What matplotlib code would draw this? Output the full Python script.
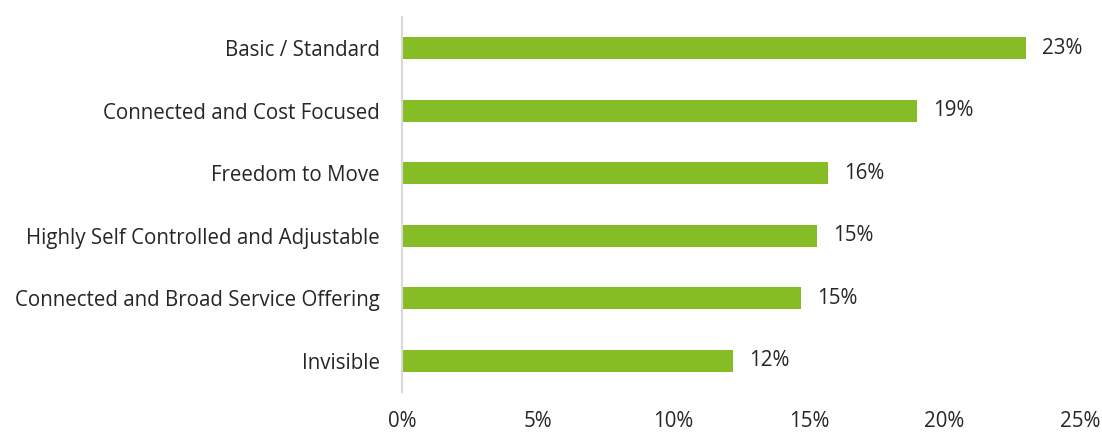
import matplotlib.pyplot as plt

categories = ["Basic / Standard", "Connected and Cost Focused", "Freedom to Move",
              "Highly Self Controlled and Adjustable", "Connected and Broad Service Offering",
              "Invisible"]
values = [23.0, 19.0, 15.7, 15.3, 14.7, 12.2]
value_labels = ["23%", "19%", "16%", "15%", "15%", "12%"]
xticks = [0, 5, 10, 15, 20, 25]

plt.rcParams['font.family'] = ['Open Sans', 'DejaVu Sans']
txt = "#262626"
fs = 14.8

fig = plt.figure(figsize=(11.02, 4.34), dpi=100)
ax = fig.add_axes([0.365, 0.097, 0.615, 0.864])

ypos = list(range(len(categories)))[::-1]
ax.barh(ypos, values, height=0.35, color="#86BC25")
for y, v, lab in zip(ypos, values, value_labels):
    ax.text(v + 0.6, y, lab, va="center", ha="left", fontsize=fs, color=txt)

ax.set_xlim(0, 25)
ax.set_ylim(-0.5, 5.5)
ax.set_yticks(ypos)
ax.set_yticklabels(categories, fontsize=fs, color=txt)
ax.set_xticks(xticks)
ax.set_xticklabels([f"{t}%" for t in xticks], fontsize=fs, color=txt)
ax.tick_params(length=0, pad=14, axis="x")
ax.tick_params(length=0, pad=16, axis="y")
for s in ["top", "right", "bottom"]:
    ax.spines[s].set_visible(False)
ax.spines["left"].set_color("#d9d9d9")
ax.spines["left"].set_linewidth(1.5)

fig.savefig("out.png", dpi=100)
